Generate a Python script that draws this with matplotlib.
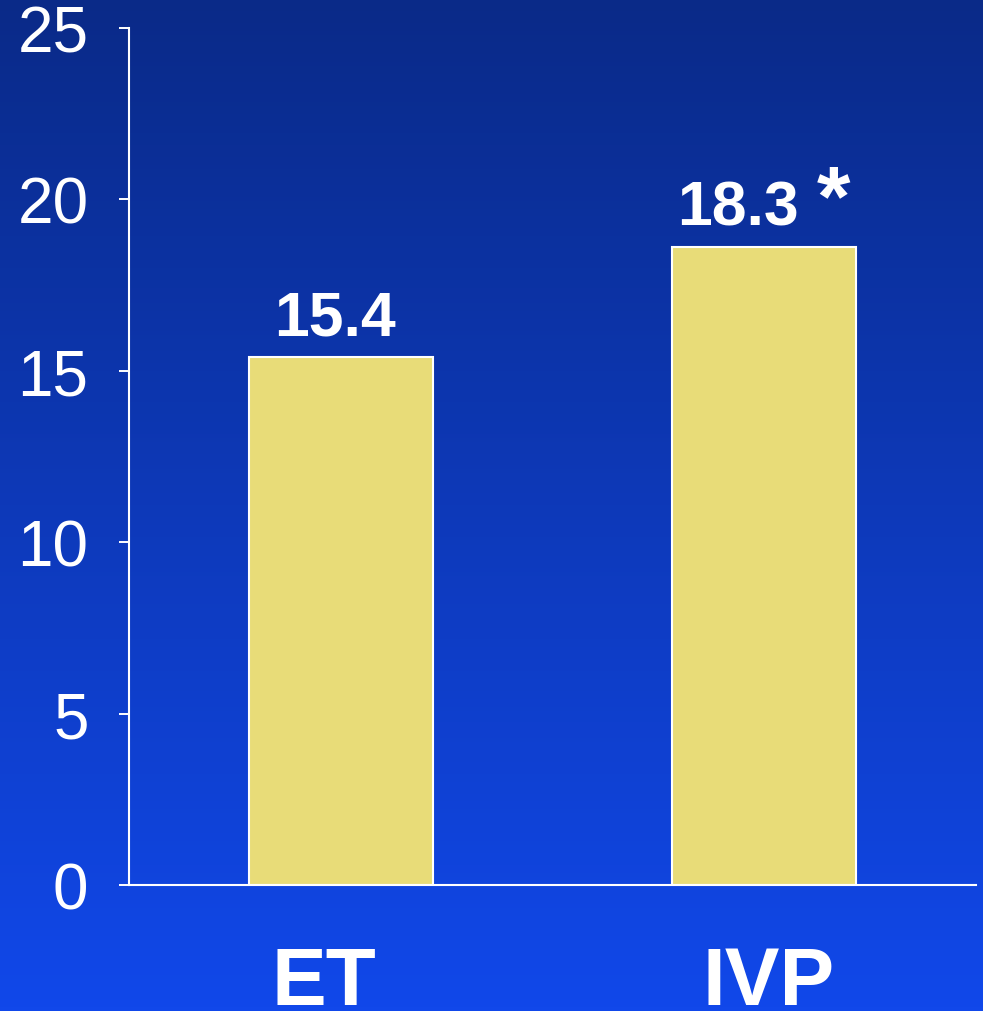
import numpy as np
import matplotlib
matplotlib.use("Agg")
import matplotlib.pyplot as plt
from matplotlib.colors import LinearSegmentedColormap

categories = ["ET", "IVP"]
bar_heights = [15.4, 18.6]
value_labels = ["15.4", "18.3"]
star_labels = ["", "*"]
yticks = [0, 5, 10, 15, 20, 25]

plt.rcParams['font.family'] = ['Liberation Sans', 'DejaVu Sans']

fig = plt.figure(figsize=(9.83, 10.12), dpi=100)

# background gradient
bg = fig.add_axes([0, 0, 1, 1], zorder=0)
grad = np.linspace(0, 1, 256).reshape(-1, 1)
cmap = LinearSegmentedColormap.from_list("bg", ["#1148ea", "#0a2a88"])
bg.imshow(grad, aspect='auto', cmap=cmap, origin='lower', extent=[0, 1, 0, 1])
bg.axis('off')

ax = fig.add_axes([0.1312, 0.1245, 0.8617, 0.8468], zorder=1)
ax.patch.set_alpha(0)

x = np.arange(len(categories))
ax.bar(x, bar_heights, width=0.434, color='#e8dc78', edgecolor='white', linewidth=1.5)

ax.set_xlim(-0.5, 1.5)
ax.set_ylim(0, 25)
ax.set_yticks(yticks)
ax.set_xticks(x)
ax.set_xticklabels([])

for s in ['top', 'right']:
    ax.spines[s].set_visible(False)
for s in ['left', 'bottom']:
    ax.spines[s].set_color('white')
    ax.spines[s].set_linewidth(1.5)

ax.tick_params(axis='y', colors='white', labelsize=46, length=7.2, width=1.4, pad=22)
ax.tick_params(axis='x', length=0)

# category names under the bars (ET sits a bit left of its bar in the original)
shift_pt = [-12, 3]
for xi, cat, dx in zip(x, categories, shift_pt):
    ax.annotate(cat, (xi, 0), xytext=(dx, -86), textcoords='offset points',
                ha='center', va='baseline', fontsize=59, fontweight='bold',
                color='white', annotation_clip=False)

for xi, h, lab, star in zip(x, bar_heights, value_labels, star_labels):
    if star:
        ax.annotate(lab, (xi, h), xytext=(-19, 16.5), textcoords='offset points',
                    ha='center', va='baseline', fontsize=45, fontweight='bold', color='white')
        ax.annotate(star, (xi, h), xytext=(50, 16.5), textcoords='offset points',
                    ha='center', va='baseline', fontsize=62, fontweight='bold', color='white')
    else:
        ax.annotate(lab, (xi, h), xytext=(-4, 16), textcoords='offset points',
                    ha='center', va='baseline', fontsize=45, fontweight='bold', color='white')

fig.savefig("out.png", dpi=100)
